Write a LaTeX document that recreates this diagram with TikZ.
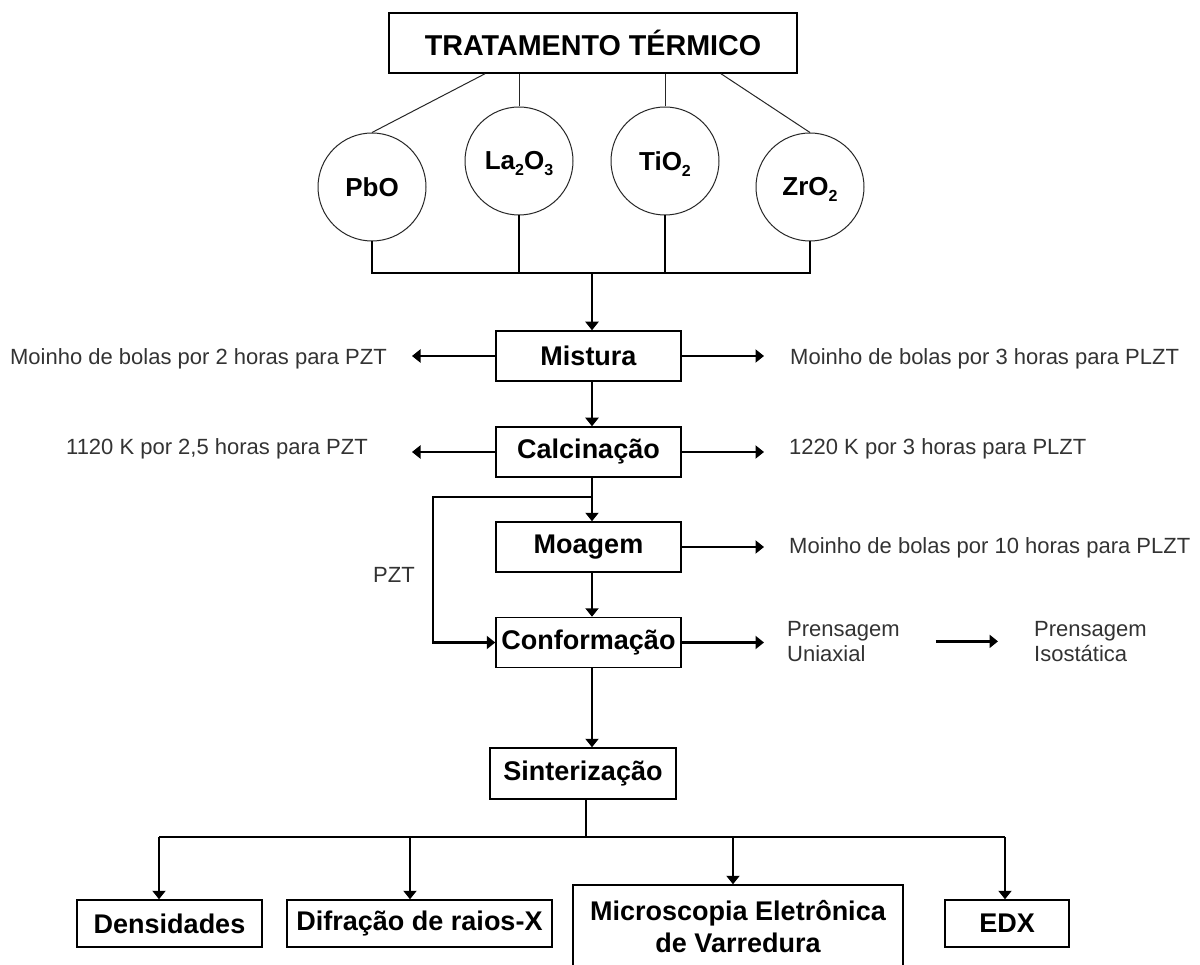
\documentclass[tikz,border=0pt]{standalone}
\usepackage{fontspec}
\setmainfont{Liberation Sans}
\usetikzlibrary{arrows.meta}
\newcommand\subn[1]{\raisebox{-6pt}[0pt][0pt]{\fontsize{16}{16}\selectfont #1}}
\begin{document}
\begin{tikzpicture}[x=1pt,y=-1pt,
  box/.style={draw, line width=1.5pt, inner sep=0pt, font=\fontsize{27}{32}\selectfont\bfseries, align=center},
  oxide/.style={draw=black!85, circle, minimum size=108pt, inner sep=0pt, line width=1pt, font=\fontsize{26}{30}\selectfont\bfseries},
  thinline/.style={line width=1pt, black!85},
  bus/.style={line width=2.5pt},
  arr/.style={line width=2.4pt, -{Triangle[length=8.5pt,width=13pt]}},
  lbl/.style={inner sep=0pt, text=black!80, font=\fontsize{22}{25}\selectfont, align=left},
]
\useasboundingbox (0,0) rectangle (1200,965);
\clip (0,0) rectangle (1200,965);
\fill[white] (0,0) rectangle (1200,965);

% title and oxides
\node[box, minimum width=408pt, minimum height=60pt, font=\fontsize{28.7}{30}\selectfont\bfseries] (tt) at (593,43) {TRATAMENTO TÉRMICO};
\node[oxide] (pbo) at (372,187) {PbO};
\node[oxide] (la) at (519,161) {La\subn{2}O\subn{3}};
\node[oxide] (ti) at (665,161) {TiO\subn{2}};
\node[oxide] (zr) at (810,187) {ZrO\subn{2}};

\draw[thinline] ([xshift=-108pt]tt.south) -- (pbo.north);
\draw[thinline] (la.north |- tt.south) -- (la.north);
\draw[thinline] (ti.north |- tt.south) -- (ti.north);
\draw[thinline] ([xshift=128pt]tt.south) -- (zr.north);

\coordinate (hub) at (592,273);
\draw[bus] (pbo.south) -- (pbo.south |- hub) -- (zr.south |- hub) -- (zr.south);
\draw[bus] (la.south) -- (la.south |- hub);
\draw[bus] (ti.south) -- (ti.south |- hub);

% process boxes
\node[box, minimum width=185pt, minimum height=50pt] (mis) at (588.5,356) {Mistura};
\node[box, minimum width=185pt, minimum height=50pt] (cal) at (588.5,452) {Calcinação};
\node[box, minimum width=185pt, minimum height=50pt] (moa) at (588.5,547) {Moagem};
\node[box, minimum width=185pt, minimum height=50pt] (con) at (588.5,642.5) {Conformação};
\node[box, minimum width=186pt, minimum height=51pt] (sin) at (583,773.5) {Sinterização};

\draw[arr] (hub) -- (hub |- mis.north);
\draw[arr] (mis.south -| hub) -- (cal.north -| hub);
\draw[arr] (cal.south -| hub) -- (moa.north -| hub);
\draw[arr] (moa.south -| hub) -- (con.north -| hub);
\draw[arr] (con.south -| hub) -- (sin.north -| hub);

% PZT bypass
\coordinate (br) at (592,497);
\coordinate (brl) at (433,497);
\draw[line width=2.2pt] (cal.south -| br) -- (br);
\draw[arr] (br) -- (brl) |- (con.west);
\node[lbl, anchor=base west] (pzt) at (373,582) {PZT};

% side labels
\node[lbl, anchor=base east] (l1) at (387,365) {Moinho de bolas por 2 horas para PZT};
\node[lbl, anchor=base east] (l2) at (368,455) {1120 K por 2,5 horas para PZT};
\node[lbl, anchor=base west] (r1) at (790,365) {Moinho de bolas por 3 horas para PLZT};
\node[lbl, anchor=base west] (r2) at (789,455) {1220 K por 3 horas para PLZT};
\node[lbl, anchor=base west] (r3) at (789,553) {Moinho de bolas por 10 horas para PLZT};
\node[lbl, anchor=north west] (pu) at (787,621) {Prensagem\\Uniaxial};
\node[lbl, anchor=north west] (pi) at (1034,621) {Prensagem\\Isostática};

\coordinate (la1) at (412,356);
\coordinate (la2) at (412,452);
\coordinate (ra1) at (764,356);
\coordinate (ra2) at (764,452);
\coordinate (ra3) at (764,547);
\coordinate (ra4) at (764,642.5);
\draw[arr] (mis.west) -- (la1);
\draw[arr] (cal.west) -- (la2);
\draw[arr] (mis.east) -- (ra1);
\draw[arr] (cal.east) -- (ra2);
\draw[arr] (moa.east) -- (ra3);
\draw[arr] (con.east) -- (ra4);
\draw[arr] ([xshift=36pt]pu.east) -- ([xshift=-36pt]pi.west);

% characterisation
\node[box, minimum width=185pt, minimum height=47pt] (den) at (169.5,923.5) {Densidades};
\node[box, minimum width=265pt, minimum height=47pt] (dif) at (419.5,923.5) {Difração de raios-X};
\node[box, minimum width=330pt, minimum height=84pt] (mic) at (738,927) {Microscopia Eletrônica\\de Varredura};
\node[box, minimum width=124pt, minimum height=47pt] (edx) at (1007,923.5) {EDX};

\coordinate (sb) at (586,837);
\coordinate (d1) at (159,837);
\coordinate (d2) at (410,837);
\coordinate (d3) at (733,837);
\coordinate (d4) at (1005,837);
\draw[bus] (sin.south -| sb) -- (sb);
\draw[bus] (d1) -- (d4);
\draw[arr] (d1) -- (d1 |- den.north);
\draw[arr] (d2) -- (d2 |- dif.north);
\draw[arr] (d3) -- (d3 |- mic.north);
\draw[arr] (d4) -- (d4 |- edx.north);
\end{tikzpicture}
\end{document}
